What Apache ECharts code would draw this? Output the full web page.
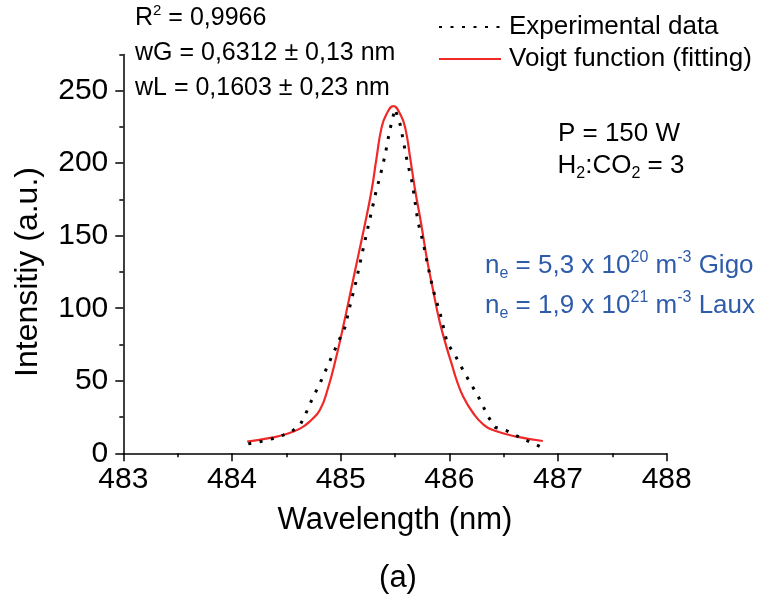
<!DOCTYPE html>
<html>
<head>
<meta charset="utf-8">
<script src="https://cdn.jsdelivr.net/npm/echarts@6/dist/echarts.min.js"></script>
<style>
  html, body { margin: 0; padding: 0; background: #fff; }
  #chart { width: 769px; height: 600px; }
</style>
</head>
<body>
<div id="chart"></div>
<script>
// Measured H-beta line profile (dotted) and its Voigt fit (red)
const expWavelength = [484.15, 484.26, 484.37, 484.47, 484.55, 484.63, 484.68, 484.72, 484.82, 484.95,
  485.04, 485.09, 485.14, 485.21, 485.27, 485.33, 485.36, 485.41, 485.45, 485.475, 485.50,
  485.52, 485.55, 485.57, 485.61, 485.66, 485.71, 485.76, 485.80, 485.85, 485.92, 485.98,
  486.05, 486.15, 486.26, 486.36, 486.42, 486.53, 486.62, 486.72, 486.84];
const expIntensity = [6.5, 8, 10, 12.5, 15, 20, 27.5, 34.5, 50, 72,
  87, 103, 118, 142, 162, 182, 190, 206, 222, 230, 237.5,
  233, 226, 218, 202, 186, 160, 145, 130, 113, 95, 76,
  68, 54, 40, 25, 18, 15.5, 12, 8.5, 4.5];

const fitWavelength = [484.14, 484.38, 484.47, 484.63, 484.73, 484.81, 484.88, 484.96, 485.03, 485.095,
  485.16, 485.225, 485.285, 485.33, 485.375, 485.42, 485.485, 485.55, 485.595, 485.64,
  485.685, 485.74, 485.79, 485.85, 485.91, 485.975, 486.02, 486.067, 486.128, 486.22,
  486.31, 486.40, 486.62, 486.86];
const fitIntensity = [8, 11, 12.6, 17.2, 23, 30, 44, 66.6, 89.6, 112.6,
  135.6, 158.6, 181.5, 203.5, 224, 233.5, 239.4, 233.5, 224, 203.5,
  181.5, 158.6, 135.6, 112.6, 91, 73, 62, 50.5, 39, 27.6,
  20, 16, 11.5, 8.5];

const seriesNames = ['Experimental data', 'Voigt function (fitting)'];
const xTickLabels = [483, 484, 485, 486, 487, 488];
const yTickLabels = [0, 50, 100, 150, 200, 250];

const FONT = 'Liberation Sans, Arial, sans-serif';
const BLUE = '#2f5caa';
const RED = '#f02828';

const pairs = (xs, ys) => xs.map((x, i) => [x, ys[i]]);

const chart = echarts.init(document.getElementById('chart'), null, { renderer: 'canvas' });

const axisBase = {
  axisLine: { show: true, lineStyle: { color: '#000', width: 1.5 } },
  splitLine: { show: false }
};

const richMain = (fs) => ({
  t: { fontSize: fs, fontFamily: FONT, lineHeight: fs + 6 },
  sup: { fontSize: Math.round(fs * 0.6), fontFamily: FONT, verticalAlign: 'top', lineHeight: Math.round(fs * 0.6) },
  sub: { fontSize: Math.round(fs * 0.6), fontFamily: FONT, verticalAlign: 'bottom', lineHeight: Math.round(fs * 0.6) }
});

function label(x, y, text, fs, color, align) {
  return {
    type: 'text', x: x, y: y, silent: true,
    style: {
      text: text, fill: color || '#000', font: fs + 'px ' + FONT,
      align: align || 'left', verticalAlign: 'middle',
      rich: richMain(fs)
    }
  };
}

const option = {
  backgroundColor: '#fff',
  animation: false,
  grid: { left: 123.3, right: 102.3, top: 54.4, bottom: 146.7, containLabel: false },
  legend: {
    orient: 'vertical', left: 433, top: 7,
    itemWidth: 62, itemHeight: 14, itemGap: 2,
    itemStyle: { opacity: 0 },
    textStyle: { fontSize: 26, fontFamily: FONT, color: '#000', padding: [0, 0, 0, 3], lineHeight: 30 },
    data: seriesNames
  },
  xAxis: Object.assign({}, axisBase, {
    type: 'value', min: 483, max: 488, interval: 1,
    axisTick: { show: true, length: 8, lineStyle: { color: '#000', width: 1.5 } },
    minorTick: { show: true, splitNumber: 2, length: 4, lineStyle: { color: '#000', width: 1.5 } },
    axisLabel: { fontSize: 30, fontFamily: FONT, color: '#000', margin: 11,
      customValues: xTickLabels },
    name: 'Wavelength (nm)', nameLocation: 'middle', nameGap: 52,
    nameTextStyle: { fontSize: 31, fontFamily: FONT, color: '#000' }
  }),
  yAxis: [
    Object.assign({}, axisBase, {
      type: 'value', min: 0, max: 275, interval: 25, position: 'left',
      axisTick: { show: true, length: 4, lineStyle: { color: '#000', width: 1.5 } },
      axisLabel: { fontSize: 30, fontFamily: FONT, color: '#000', margin: 15,
        customValues: yTickLabels }
    }),
    {
      type: 'value', min: 0, max: 275, interval: 25, position: 'left', offset: 0,
      axisLine: { show: false }, splitLine: { show: false }, axisLabel: { show: false },
      axisTick: { show: true, length: 8, customValues: yTickLabels,
        lineStyle: { color: '#000', width: 1.5 } }
    }
  ],
  series: [
    {
      name: seriesNames[0], type: 'line', data: pairs(expWavelength, expIntensity),
      symbol: 'none', smooth: false, z: 3,
      lineStyle: { color: '#000', width: 3, type: [3, 8.5], cap: 'butt' },
      itemStyle: { color: '#000' }
    },
    {
      name: seriesNames[1], type: 'line', data: pairs(fitWavelength, fitIntensity),
      symbol: 'none', smooth: 0.5, z: 2,
      lineStyle: { color: RED, width: 2.2 },
      itemStyle: { color: RED }
    }
  ],
  graphic: [
    label(135, 18.5, '{t|R}{sup|2}{t| = 0,9966}', 25),
    label(135, 53.5, '{t|wG = 0,6312 ± 0,13 nm}', 25),
    label(135, 88, '{t|wL = 0,1603 ± 0,23 nm}', 25),
    label(619, 134, '{t|P = 150 W}', 26, '#000', 'center'),
    label(621, 166, '{t|H}{sub|2}{t|:CO}{sub|2}{t| = 3}', 26, '#000', 'center'),
    label(485, 266, '{t|n}{sub|e}{t| = 5,3 x 10}{sup|20}{t| m}{sup|-3}{t| Gigo}', 26, BLUE),
    label(485, 306, '{t|n}{sub|e}{t| = 1,9 x 10}{sup|21}{t| m}{sup|-3}{t| Laux}', 26, BLUE),
    {
      type: 'text', x: 28, y: 272, rotation: Math.PI / 2, silent: true,
      style: { text: 'Intensitiy (a.u.)', fill: '#000', font: '32px ' + FONT,
        align: 'center', verticalAlign: 'middle' }
    },
    {
      type: 'text', x: 398, y: 578, silent: true,
      style: { text: '(a)', fill: '#000', font: '31px ' + FONT,
        align: 'center', verticalAlign: 'middle' }
    }
  ]
};

chart.setOption(option);
</script>
</body>
</html>
